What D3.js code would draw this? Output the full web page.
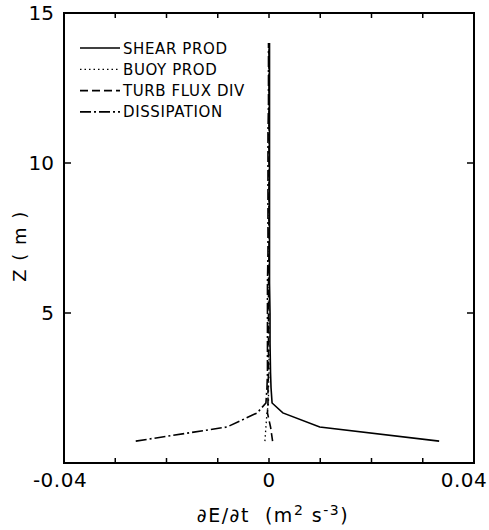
<!DOCTYPE html>
<html>
<head>
<meta charset="utf-8">
<script src="https://cdn.jsdelivr.net/npm/d3@7"></script>
<style>
  body { margin: 0; background: #fff; }
  text { font-family: "DejaVu Sans", sans-serif; fill: #000; }
</style>
</head>
<body>
<svg width="489" height="530"></svg>
<script>
const svg = d3.select("svg");

// heights (m) of the model levels
const heights = [0.73, 1.2, 1.67, 2.0, 2.5, 3, 4, 5, 6, 7, 8, 9, 10, 11, 12, 13, 14];
// energy budget terms, m2 s-3
const shearProd   = [0.0332, 0.0099, 0.0027, 0.0006, 0.0004, 0.0003, 0.0002, 0.0002, 0.0001, 0.0001, 0.0001, 0.0001, 0.0001, 0.0001, 0.0001, 0.0001, 0.0001];
const buoyProd    = [-0.0008, -0.0006, -0.0004, -0.0001, -0.0001, 0, 0, 0, 0, 0, 0, 0, 0, 0, 0, 0, 0];
const turbFluxDiv = [0.0007, 0.0003, -0.0003, -0.0002, -0.0002, -0.0001, -0.0001, -0.0001, -0.0001, 0, 0, 0, 0, 0, 0, 0, 0];
const dissipation = [-0.026, -0.0082, -0.0023, -0.0006, -0.0004, -0.0003, -0.0003, -0.0003, -0.0003, -0.0002, -0.0002, -0.0002, -0.0002, -0.0002, -0.0001, -0.0001, -0.0001];

const seriesNames = ["SHEAR PROD", "BUOY PROD", "TURB FLUX DIV", "DISSIPATION"];
const xTicks = [-0.04, 0, 0.04];
const yTicks = [5, 10, 15];

const mLeft = 64, mRight = 474, mTop = 13, mBottom = 463;

const x = d3.scaleLinear().domain([-0.04, 0.04]).range([mLeft, mRight]);
const y = d3.scaleLinear().domain([0, 15]).range([mBottom, mTop]);

const dashes = ["none", "1.5,3", "8,4", "11,3,2,3"];
const allSeries = [shearProd, buoyProd, turbFluxDiv, dissipation];

// frame
svg.append("rect")
  .attr("x", mLeft).attr("y", mTop)
  .attr("width", mRight - mLeft).attr("height", mBottom - mTop)
  .attr("fill", "none").attr("stroke", "#000").attr("stroke-width", 2);

// minor ticks every 0.01 on bottom and top, pointing inward
const minor = d3.range(-0.03, 0.031, 0.01);
svg.selectAll(".tb").data(minor).enter().append("line")
  .attr("x1", d => x(d)).attr("x2", d => x(d))
  .attr("y1", mBottom).attr("y2", mBottom - 5)
  .attr("stroke", "#000").attr("stroke-width", 1.5);
svg.selectAll(".tt").data(minor).enter().append("line")
  .attr("x1", d => x(d)).attr("x2", d => x(d))
  .attr("y1", mTop).attr("y2", mTop + 5)
  .attr("stroke", "#000").attr("stroke-width", 1.5);

// y ticks on both sides
[5, 10].forEach(v => {
  svg.append("line").attr("x1", mLeft).attr("x2", mLeft + 7)
    .attr("y1", y(v)).attr("y2", y(v)).attr("stroke", "#000").attr("stroke-width", 1.5);
  svg.append("line").attr("x1", mRight).attr("x2", mRight - 7)
    .attr("y1", y(v)).attr("y2", y(v)).attr("stroke", "#000").attr("stroke-width", 1.5);
});

// tick labels
svg.selectAll(".xl").data(xTicks).enter().append("text")
  .attr("x", (d, i) => x(d) + [-4, 0, -10][i])
  .attr("y", 487)
  .attr("text-anchor", "middle")
  .attr("font-size", 20)
  .attr("letter-spacing", 0.5)
  .text(d => d === 0 ? "0" : d3.format(".2f")(d).replace("−", "-"));

svg.selectAll(".yl").data(yTicks).enter().append("text")
  .attr("x", mLeft - 10)
  .attr("y", d => y(d) + 7)
  .attr("text-anchor", "end")
  .attr("font-size", 20)
  .text(d => d);

// axis titles
svg.append("text")
  .attr("x", 273).attr("y", 522)
  .attr("text-anchor", "middle")
  .attr("font-size", 19)
  .attr("letter-spacing", 1.5)
  .html('∂E/∂t&#160;&#160;(m<tspan dy="-7" font-size="14">2</tspan><tspan dy="7"> s</tspan><tspan dy="-7" font-size="14">-3</tspan><tspan dy="7">)</tspan>');

svg.append("text")
  .attr("transform", "translate(26,246) rotate(-90)")
  .attr("text-anchor", "middle")
  .attr("font-size", 18)
  .attr("letter-spacing", 1.5)
  .text("Z ( m )");

// profiles
const line = d3.line()
  .x(d => x(d[0]))
  .y(d => y(d[1]));

allSeries.forEach((s, i) => {
  svg.append("path")
    .datum(s.map((v, k) => [v, heights[k]]))
    .attr("d", line)
    .attr("fill", "none")
    .attr("stroke", "#000")
    .attr("stroke-width", i === 1 ? 1.3 : 1.6)
    .attr("stroke-dasharray", dashes[i]);
});

// legend
const leg = svg.append("g");
seriesNames.forEach((name, i) => {
  const ly = 48 + i * 21.3;
  leg.append("line")
    .attr("x1", 80).attr("x2", 120)
    .attr("y1", ly).attr("y2", ly)
    .attr("stroke", "#000")
    .attr("stroke-width", i === 1 ? 1.3 : 1.6)
    .attr("stroke-dasharray", dashes[i]);
  leg.append("text")
    .attr("x", 123).attr("y", ly + 5.5)
    .attr("font-size", 15)
    .attr("letter-spacing", 0.6)
    .text(name);
});
</script>
</body>
</html>
